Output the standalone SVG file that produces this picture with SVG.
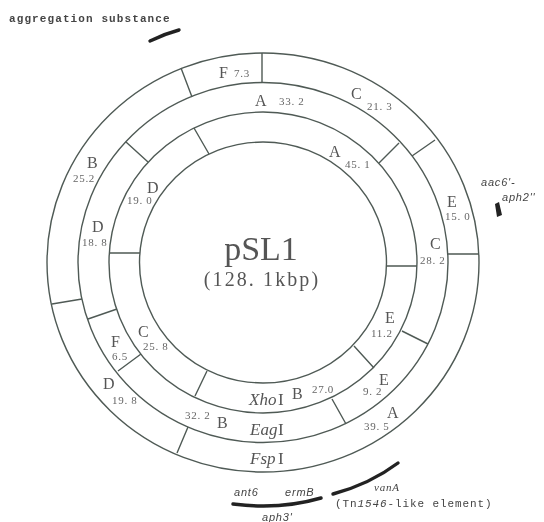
<svg xmlns="http://www.w3.org/2000/svg" width="544" height="522" viewBox="0 0 544 522">
<defs><filter id="soft" x="-5%" y="-5%" width="110%" height="110%"><feGaussianBlur stdDeviation="0.45"/></filter></defs>
<style>
g{filter:url(#soft)}
.r{fill:none;stroke:#4f5a55;stroke-width:1.4}
.t{stroke:#4f5a55;stroke-width:1.4;fill:none}
.g{fill:none;stroke:#222;stroke-width:3.4;stroke-linecap:round}
text{font-family:"Liberation Serif",serif;fill:#555}
.l{font-size:16px}
.n{font-size:11px;fill:#666;letter-spacing:.7px}
.m{font-family:"Liberation Mono",monospace;font-size:11px;font-weight:bold;fill:#444;letter-spacing:1.1px}
.k{font-family:"Liberation Mono",monospace;font-size:11px;fill:#444;letter-spacing:.9px}
.i{font-style:italic;font-size:11px;font-family:"Liberation Sans",sans-serif;fill:#444;letter-spacing:.8px}
.e{font-style:italic;font-size:17px}
.c{font-size:17px}
</style>
<rect width="544" height="522" fill="#fff"/>
<g id="rings">
<ellipse class="r" cx="263" cy="262.5" rx="216" ry="209.5"/>
<ellipse class="r" cx="263" cy="262.5" rx="185" ry="180"/>
<ellipse class="r" cx="263" cy="262.5" rx="154" ry="150.5"/>
<ellipse class="r" cx="263" cy="262.5" rx="123.5" ry="120.5"/>
</g>
<g id="connectors">
<path class="t" d="M262 53V83M181 68L192 97M435 140L412 156M448 254H479M52 304L82 299M177 453L188 427"/>
<path class="t" d="M126 142L148 162M399 143L379 163M402 331L428 344M88 319L117 309M118 371L141 354M332 399L346 424"/>
<path class="t" d="M110 253H140M387 266H417M354 346L374 368M207 371L195 396M194 128L209 154"/>
</g>
<g id="genes">
<path class="g" d="M150 41Q164 34 179 30"/>
<path d="M495 204L499 202L502 215L497 217Z" fill="#222"/>
<path class="g" d="M333 494Q370 484 398 463"/>
<path class="g" d="M233 504Q280 510 321 498"/>
<text class="m" x="9" y="22">aggregation substance</text>
<text class="i" x="481" y="186">aac6'-</text>
<text class="i" x="502" y="201">aph2''</text>
<text class="i" x="374" y="491" style="font-family:'Liberation Serif',serif">vanA</text>
<text class="k" x="335" y="507">(Tn<tspan font-style="italic">1546</tspan>-like element)</text>
<text class="i" x="234" y="496">ant6</text>
<text class="i" x="285" y="496">ermB</text>
<text class="i" x="262" y="521">aph3'</text>
</g>
<g id="center">
<text x="261" y="260" text-anchor="middle" font-size="34">pSL1</text>
<text x="262" y="286" text-anchor="middle" font-size="20" letter-spacing="2.1">(128. 1kbp)</text>
</g>
<g id="labels">
<text class="l" x="219" y="78">F</text><text class="n" x="234" y="77">7.3</text>
<text class="l" x="255" y="106">A</text><text class="n" x="279" y="105">33. 2</text>
<text class="l" x="351" y="99">C</text><text class="n" x="367" y="110">21. 3</text>
<text class="l" x="329" y="157">A</text><text class="n" x="345" y="168">45. 1</text>
<text class="l" x="447" y="207">E</text><text class="n" x="445" y="220">15. 0</text>
<text class="l" x="430" y="249">C</text><text class="n" x="420" y="264">28. 2</text>
<text class="l" x="87" y="168">B</text><text class="n" x="73" y="182">25.2</text>
<text class="l" x="147" y="193">D</text><text class="n" x="127" y="204">19. 0</text>
<text class="l" x="92" y="232">D</text><text class="n" x="82" y="246">18. 8</text>
<text class="l" x="385" y="323">E</text><text class="n" x="371" y="337">11.2</text>
<text class="l" x="379" y="385">E</text><text class="n" x="363" y="395">9. 2</text>
<text class="l" x="387" y="418">A</text><text class="n" x="364" y="430">39. 5</text>
<text class="l" x="138" y="337">C</text><text class="n" x="143" y="350">25. 8</text>
<text class="l" x="111" y="347">F</text><text class="n" x="112" y="360">6.5</text>
<text class="l" x="103" y="389">D</text><text class="n" x="112" y="404">19. 8</text>
<text class="l" x="217" y="428">B</text><text class="n" x="185" y="419">32. 2</text>
<text class="l" x="292" y="399">B</text><text class="n" x="312" y="393">27.0</text>
<text class="e" x="249" y="405">Xho</text><text class="c" x="278" y="405">I</text>
<text class="e" x="250" y="435">Eag</text><text class="c" x="278" y="435">I</text>
<text class="e" x="250" y="464">Fsp</text><text class="c" x="278" y="464">I</text>
</g>
</svg>
